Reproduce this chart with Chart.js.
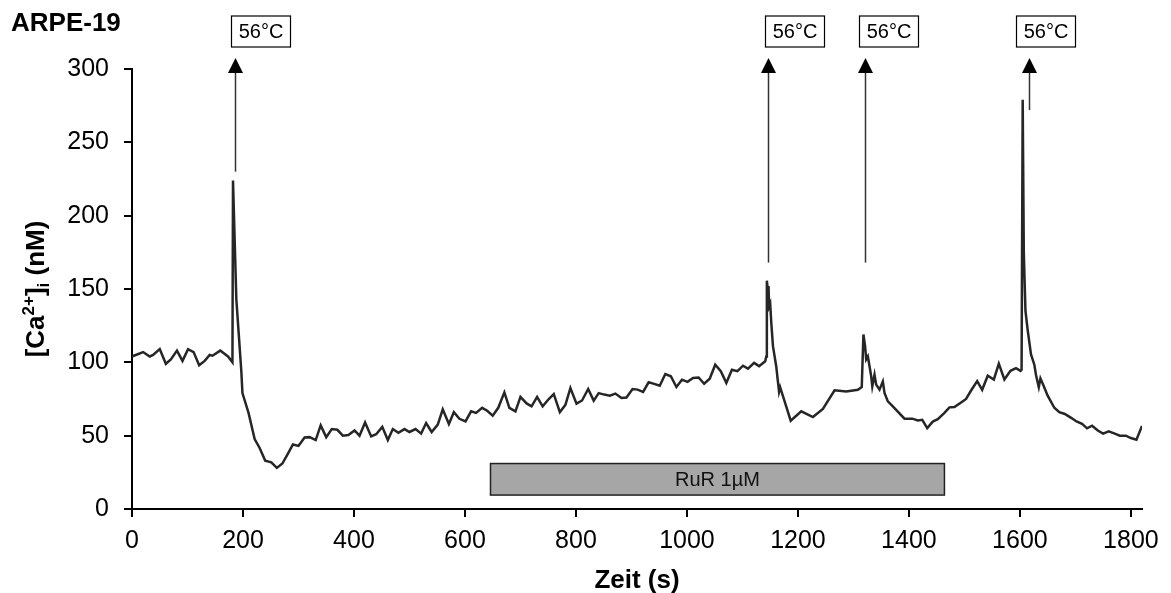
<!DOCTYPE html>
<html lang="de">
<head>
  <meta charset="UTF-8">
  <title>ARPE-19 [Ca2+]i</title>
  <style>
    html, body { margin: 0; padding: 0; background: #fff; }
    #wrap { width: 1171px; height: 593px; }
  </style>
  <script src="https://cdn.jsdelivr.net/npm/chart.js"></script>
</head>
<body>

<div id="wrap"><canvas id="caChart" width="1171" height="593"></canvas></div>

<script>
  const times = [
    0, 20, 32, 38, 50, 61, 70, 81, 91, 101, 111, 121, 131, 140, 145, 159, 173, 181,
    182, 188, 197, 199, 210, 221, 230, 240, 251, 261, 271, 280, 290, 300, 311, 320,
    331, 340, 350, 360, 370, 380, 390, 401, 410, 420, 431, 440, 451, 461, 470, 480,
    491, 500, 511, 521, 530, 540, 551, 560, 571, 580, 590, 601, 611, 620, 631, 640,
    650, 660, 671, 680, 691, 700, 711, 720, 730, 740, 751, 760, 771, 781, 790, 801,
    811, 822, 832, 841, 851, 861, 871, 882, 891, 902, 911, 921, 931, 941, 951, 961,
    971, 981, 991, 1001, 1011, 1021, 1031, 1041, 1051, 1061, 1071, 1081, 1091, 1101,
    1110, 1121, 1130, 1141, 1143, 1144, 1146, 1147, 1148, 1150, 1152, 1155, 1161,
    1163, 1166, 1168, 1176, 1187, 1206, 1227, 1245, 1266, 1287, 1308, 1315, 1318,
    1321, 1323, 1326, 1329, 1332, 1334, 1338, 1341, 1347, 1353, 1356, 1362, 1371,
    1392, 1406, 1416, 1424, 1433, 1443, 1452, 1464, 1473, 1482, 1494, 1503, 1512,
    1523, 1532, 1542, 1553, 1562, 1572, 1583, 1593, 1601, 1603, 1605, 1607, 1610,
    1614, 1620, 1626, 1629, 1634, 1637, 1641, 1650, 1662, 1671, 1681, 1693, 1702,
    1712, 1721, 1730, 1741, 1750, 1760, 1771, 1780, 1791, 1800, 1810, 1820
  ];
  const calcium = [
    104, 107, 104, 105, 109, 99, 102, 108, 101, 109, 107, 98, 101, 105, 104.5, 108, 104, 100,
    224, 143, 94, 79, 65.5, 47.7, 41.6, 33, 31.8, 28, 31, 37, 44, 43, 48.8, 49,
    47, 57, 49, 54.5, 54, 50, 50.5, 53.6, 50, 59, 49.5, 51, 56, 47, 54.5, 52,
    54.5, 52.5, 54.5, 51.4, 58.6, 52.5, 57.5, 68, 58, 66, 61.5, 59.7, 66.6, 65.5, 69, 67,
    63.6, 69, 79.5, 69, 66.6, 76.4, 72, 70, 76.4, 70, 75, 78.4, 66, 71, 82.5, 71.8,
    74, 81.8, 73.9, 79, 78, 77.3, 78.7, 75.7, 76, 81.8, 81.4, 79.8, 86.4, 85.3, 84, 92,
    90.5, 83.2, 88.2, 86.7, 89.3, 89.7, 85.4, 88.8, 98.4, 94, 86, 95, 94, 97.7,
    95.7, 99.6, 97.4, 100.7, 104, 155.7, 148, 152, 138, 140, 126.8, 111, 97,
    90, 80, 83, 73.4, 60.2, 66.6, 62.7, 68.2, 80.9, 80.2, 81.3, 83.2, 119,
    111, 102, 104, 97.3, 90.5, 83.6, 91.6, 84.8, 81.4, 87, 79.1, 73.4, 70,
    61.6, 61.6, 60.4, 60.8, 55.2, 59.6, 61.3, 65.5, 69.3, 69.5, 72.6, 75, 80.8,
    87.2, 81.3, 90.9, 88.3, 99.1, 88.3, 94.2, 96, 94.2, 95, 279, 175, 135,
    121.9, 105.4, 98.4, 91.4, 83.1, 89, 85.5, 77.3, 69, 66, 64.8, 62, 59.7,
    58, 55, 56.8, 53.3, 51.4, 53, 51.4, 50, 50, 48.4, 47.3, 56.6
  ];
  const xTicks = [0, 200, 400, 600, 800, 1000, 1200, 1400, 1600, 1800];
  const yTicks = [0, 50, 100, 150, 200, 250, 300];

  // Reize (56°C) und RuR-Applikation
  const stimTimes = [185, 1146, 1320, 1617];
  const stimFrom = [230, 168, 168, 272];
  const stimLabels = ['56°C', '56°C', '56°C', '56°C'];
  const rurStart = 646;
  const rurEnd = 1464;
  const rurLabel = 'RuR 1µM';

  const FONT = '"Liberation Sans", Arial, sans-serif';
  const boxShift = [-4, -3, -6, -13]; // px, Kasten links vom Pfeil

  const extras = {
    id: 'extras',
    beforeDatasetsDraw(chart) {
      const { ctx, scales: { x, y } } = chart;
      // RuR Balken
      const x0 = x.getPixelForValue(rurStart), x1 = x.getPixelForValue(rurEnd);
      const y0 = y.getPixelForValue(31), y1 = y.getPixelForValue(9.5);
      ctx.save();
      ctx.fillStyle = '#a6a6a6';
      ctx.strokeStyle = '#222';
      ctx.lineWidth = 1.5;
      ctx.fillRect(x0, y0, x1 - x0, y1 - y0);
      ctx.strokeRect(x0, y0, x1 - x0, y1 - y0);
      ctx.fillStyle = '#111';
      ctx.font = '20px ' + FONT;
      ctx.textAlign = 'center';
      ctx.textBaseline = 'middle';
      ctx.fillText(rurLabel, (x0 + x1) / 2, (y0 + y1) / 2 + 1);
      ctx.restore();
    },
    afterDraw(chart) {
      const { ctx, chartArea, scales: { x, y } } = chart;
      ctx.save();
      // Pfeile + Kaesten
      stimTimes.forEach((t, i) => {
        const px = Math.round(x.getPixelForValue(t)) + 0.5;
        const tip = chartArea.top - 11;
        const bottom = y.getPixelForValue(stimFrom[i]);
        ctx.strokeStyle = '#333';
        ctx.lineWidth = 1.5;
        ctx.beginPath();
        ctx.moveTo(px, bottom);
        ctx.lineTo(px, tip + 12);
        ctx.stroke();
        ctx.fillStyle = '#000';
        ctx.beginPath();
        ctx.moveTo(px, tip);
        ctx.lineTo(px - 7.5, tip + 15);
        ctx.lineTo(px + 7.5, tip + 15);
        ctx.closePath();
        ctx.fill();

        const bx = px + boxShift[i];
        ctx.fillStyle = '#fff';
        ctx.fillRect(bx, 16, 59, 31);
        ctx.strokeStyle = '#000';
        ctx.lineWidth = 1.2;
        ctx.strokeRect(bx, 16, 59, 31);
        ctx.fillStyle = '#000';
        ctx.font = '20px ' + FONT;
        ctx.textAlign = 'center';
        ctx.textBaseline = 'middle';
        ctx.fillText(stimLabels[i], bx + 29.5, 32);
      });

      // Titel
      ctx.textAlign = 'left';
      ctx.textBaseline = 'alphabetic';
      ctx.font = 'bold 26px ' + FONT;
      ctx.fillText('ARPE-19', 11, 31);

      // x-Achsentitel
      ctx.textAlign = 'center';
      ctx.font = 'bold 26px ' + FONT;
      ctx.fillText('Zeit (s)', (chartArea.left + chartArea.right) / 2, 588);

      // y-Achsentitel mit Hoch-/Tiefstellung
      ctx.textAlign = 'left';
      const big = 'bold 26px ' + FONT, small = 'bold 17px ' + FONT;
      const parts = [
        { t: '[Ca', f: big, dy: 0 },
        { t: '2+', f: small, dy: -10 },
        { t: ']', f: big, dy: 0 },
        { t: 'i', f: small, dy: 5 },
        { t: ' (nM)', f: big, dy: 0 }
      ];
      let total = 0;
      parts.forEach(p => { ctx.font = p.f; p.w = ctx.measureText(p.t).width; total += p.w; });
      ctx.translate(44, (chartArea.top + chartArea.bottom) / 2);
      ctx.rotate(-Math.PI / 2);
      let cx = -total / 2;
      parts.forEach(p => {
        ctx.font = p.f;
        ctx.fillText(p.t, cx, p.dy);
        cx += p.w;
      });
      ctx.restore();
    }
  };

  const axisGrid = { drawOnChartArea: false, drawTicks: true, tickLength: 8, color: '#000', lineWidth: 2 };

  new Chart(document.getElementById('caChart'), {
    type: 'line',
    data: {
      datasets: [{
        data: times.map((t, i) => ({ x: t, y: calcium[i] })),
        borderColor: '#262626',
        borderWidth: 2.5,
        pointRadius: 0,
        tension: 0,
        fill: false
      }]
    },
    options: {
      responsive: false,
      animation: false,
      devicePixelRatio: 1,
      layout: { padding: { top: 69, right: 29, bottom: 0, left: 0 } },
      plugins: { legend: { display: false }, tooltip: { enabled: false } },
      scales: {
        x: {
          type: 'linear',
          min: 0,
          max: 1820,
          afterBuildTicks: s => { s.ticks = xTicks.map(v => ({ value: v })); },
          afterFit: s => { s.height = 84; },
          ticks: {
            font: { family: FONT, size: 25 }, color: '#000', padding: 9,
            maxRotation: 0, autoSkip: false, callback: v => String(v)
          },
          grid: axisGrid,
          border: { color: '#000', width: 2 }
        },
        y: {
          min: 0,
          max: 300,
          afterBuildTicks: s => { s.ticks = yTicks.map(v => ({ value: v })); },
          afterFit: s => { s.width = 132; },
          ticks: { font: { family: FONT, size: 25 }, color: '#000', padding: 15, callback: v => String(v) },
          grid: axisGrid,
          border: { color: '#000', width: 2 }
        }
      }
    },
    plugins: [extras]
  });
</script>

</body>
</html>
